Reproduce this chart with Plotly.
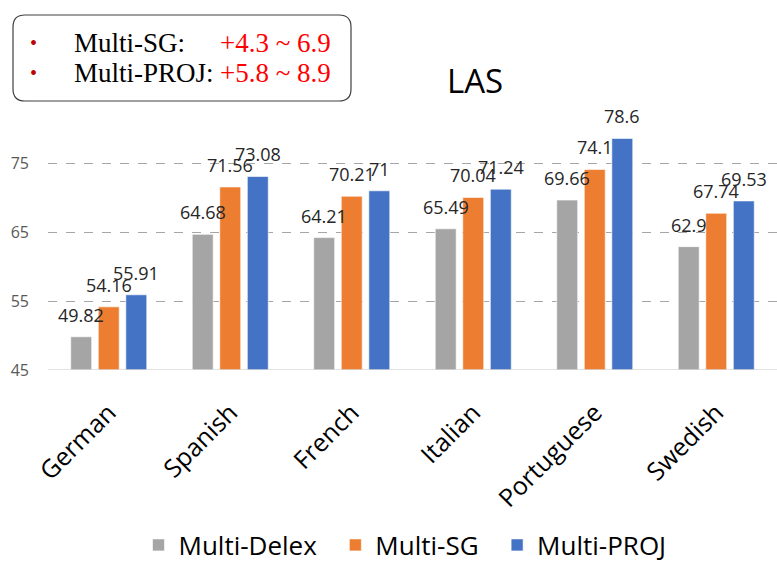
import plotly.graph_objects as go

categories = ["German", "Spanish", "French", "Italian", "Portuguese", "Swedish"]
multi_delex = [49.82, 64.68, 64.21, 65.49, 69.66, 62.9]
multi_sg = [54.16, 71.56, 70.21, 70.04, 74.1, 67.74]
multi_proj = [55.91, 73.08, 71.0, 71.24, 78.6, 69.53]
series_names = ["Multi-Delex", "Multi-SG", "Multi-PROJ"]
series_colors = ["#A5A5A5", "#ED7D31", "#4472C4"]
y_ticks = [45, 55, 65, 75]

W, H = 777, 563
ML, MR, MT, MB = 48, 0, 115, 193
PW = W - ML - MR
PH = H - MT - MB


def px(x):
    return (x - ML) / PW


def py(y):
    return (H - MB - y) / PH


fig = go.Figure()
series = [multi_delex, multi_sg, multi_proj]
for k, (name, vals, col) in enumerate(zip(series_names, series, series_colors)):
    pad = "\u00a0\u00a0" if k < len(series_names) - 1 else ""
    fig.add_trace(go.Bar(
        x=categories, y=vals, name=name + pad,
        marker=dict(color=col, line=dict(color="rgba(255,255,255,0.6)", width=1)),
    ))

slot = PW / len(categories) * (1 - 0.32) / 3
annotations = []
for i, vals in enumerate(series):
    for c, v in zip(categories, vals):
        annotations.append(dict(
            x=c, y=v, xref="x", yref="y", text=f"{v:g}", showarrow=False,
            xshift=(i - 1) * slot, yanchor="bottom", yshift=8,
            font=dict(family="Open Sans, sans-serif", size=18, color="#262626"),
        ))

# title
annotations.append(dict(x=px(475), y=py(80), xref="paper", yref="paper", text="LAS",
                        showarrow=False, xanchor="center", yanchor="middle",
                        font=dict(family="Open Sans, sans-serif", size=33, color="#000000")))

# info box text
serif = "Liberation Serif, Times New Roman, serif"
rows = [("Multi-SG:", "+4.3 ~ 6.9", 43), ("Multi-PROJ:", "+5.8 ~ 8.9", 73)]
for lab, val, yy in rows:
    annotations.append(dict(x=px(33), y=py(yy), xref="paper", yref="paper", text="•",
                            showarrow=False, xanchor="center", yanchor="middle",
                            font=dict(family=serif, size=20, color="#C00000")))
    annotations.append(dict(x=px(72), y=py(yy), xref="paper", yref="paper", text=lab,
                            showarrow=False, xanchor="left", yanchor="middle",
                            font=dict(family=serif, size=27, color="#000000")))
    annotations.append(dict(x=px(333), y=py(yy), xref="paper", yref="paper", text=val,
                            showarrow=False, xanchor="right", yanchor="middle",
                            font=dict(family=serif, size=27, color="#FF0000")))

# rounded box path
x0, x1, y0, y1, r = 13, 351, 15, 101, 12
def P(x, y):
    return f"{px(x):.5f},{py(y):.5f}"
path = (f"M {P(x0 + r, y0)} L {P(x1 - r, y0)} Q {P(x1, y0)} {P(x1, y0 + r)} "
        f"L {P(x1, y1 - r)} Q {P(x1, y1)} {P(x1 - r, y1)} "
        f"L {P(x0 + r, y1)} Q {P(x0, y1)} {P(x0, y1 - r)} "
        f"L {P(x0, y0 + r)} Q {P(x0, y0)} {P(x0 + r, y0)} Z")

fig.update_layout(
    width=W, height=H,
    margin=dict(l=ML, r=MR, t=MT, b=MB, autoexpand=False),
    paper_bgcolor="white", plot_bgcolor="white",
    barmode="group", bargap=0.32, bargroupgap=0.24,
    showlegend=True,
    legend=dict(orientation="h", xref="container", yref="container",
                x=405 / W, y=1 - 545 / H, xanchor="center", yanchor="middle",
                font=dict(family="Open Sans, sans-serif", size=26, color="#000000"),
                itemwidth=30, tracegroupgap=0),
    annotations=annotations,
    shapes=[dict(type="path", path=path, xref="paper", yref="paper",
                 line=dict(color="#404040", width=1.2), fillcolor="rgba(0,0,0,0)")],
    xaxis=dict(tickangle=-45, tickfont=dict(family="Open Sans, sans-serif", size=25, color="#000000"),
               showline=False, ticks="", automargin=False, ticklabelstandoff=22),
    yaxis=dict(range=[45, 82], tickvals=y_ticks, showgrid=True, gridcolor="#A6A6A6",
               griddash="dash", gridwidth=1, zeroline=False, showline=False,
               tickfont=dict(family="Open Sans, sans-serif", size=16, color="#595959"),
               ticklabelstandoff=18, automargin=False),
)
fig.add_hline(y=45, line=dict(color="#D9D9D9", width=1.5))

fig.write_html("out.html", config={"displayModeBar": False},
               post_script="document.body.style.margin='0';document.body.style.overflow='hidden';")
